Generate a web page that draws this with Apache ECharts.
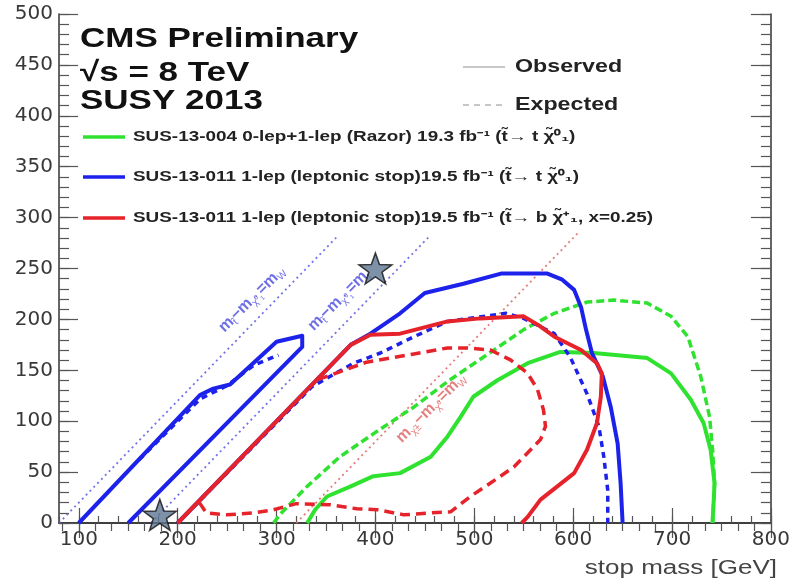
<!DOCTYPE html>
<html>
<head>
<meta charset="utf-8">
<script src="https://cdn.jsdelivr.net/npm/echarts@6.0.0/dist/echarts.min.js"></script>
<style>
html,body{margin:0;padding:0;background:#fff;}
#chart{width:793px;height:584px;}
</style>
</head>
<body>
<div id="chart"></div>
<script>
// ---- tick labels ----
const xTickLabels = [100, 200, 300, 400, 500, 600, 700, 800];
const yTickLabels = [0, 50, 100, 150, 200, 250, 300, 350, 400, 450, 500];

// ---- kinematic lines (stop mass, LSP mass) ----
const lineMW = [[80, 0], [362, 282]];          // m_stop - m_LSP = m_W
const lineMt = [[173, 0], [455, 282]];         // m_stop - m_LSP = m_t
const lineRedMW = [[320, 0], [605, 285]];      // m_chargino - m_LSP = m_W (x=0.25)

// ---- SUS-13-004 Razor (green) ----
const greenObs = [[331,0],[339,13],[351,26],[375,36],[398,46],[425,49],[456,65],[473,85],[486,104],[499,124],[523,140],[554,157],[587,168],[621,167],[675,162],[699,147],[719,121],[732,98],[739,72],[743,39],[741,0]];
const greenExp = [[297,0],[304,9],[331,36],[364,65],[400,89],[439,114],[473,139],[520,170],[550,190],[581,206],[614,217],[641,219],[675,216],[699,203],[716,183],[729,144],[738,104],[741,72],[743,39],[741,0]];

// ---- SUS-13-011 t -> t chi0 (blue) ----
const blueIslandObs = [[100,0],[223,126],[236,132],[253,136],[300,178],[326,184],[326,173],[150,0]];
const blueIslandExp = [[161,62],[200,100],[223,122],[250,135],[277,155],[302,165]];
const blueObs = [[200,0],[375,175],[395,186],[425,206],[450,226],[489,235],[527,245],[574,245],[589,239],[601,229],[608,212],[613,190],[619,167],[630,144],[638,114],[645,78],[648,39],[650,0]];
const blueExp = [[200,0],[336,134],[378,157],[405,167],[439,183],[473,198],[532,206],[550,201],[581,186],[597,163],[614,127],[626,95],[631,65],[635,32],[635,0]];

// ---- SUS-13-011 t -> b chi+ x=0.25 (red) ----
const redObs = [[200,0],[375,175],[395,185],[425,186],[473,198],[506,201],[550,203],[567,193],[581,183],[608,170],[624,157],[629,147],[628,124],[624,98],[614,72],[601,49],[584,36],[567,23],[554,6],[548,0]];
const redExp = [[222,20],[229,10],[250,8],[277,10],[297,13],[320,19],[354,18],[381,14],[402,13],[429,8],[456,10],[476,11],[496,26],[516,39],[540,55],[557,72],[567,82],[572,95],[570,111],[564,131],[554,147],[537,160],[516,170],[493,172],[473,172],[439,166],[391,158],[351,144],[342,141]];

// ---- benchmark stars ----
const stars = [[182, 8], [400, 250]];

// ---- line annotations ----
const blueLabels = [[275, 220, 'W'], [363, 219, 't']];
const redLabels = [[456, 113, 'W']];

const BLUE = '#1c22ea', RED = '#e6232b', GREEN = '#2fe22f';
const DOT_BLUE = 'rgba(90,90,230,0.85)', DOT_RED = 'rgba(225,110,110,0.9)';

const chart = echarts.init(document.getElementById('chart'), null, {renderer: 'canvas'});

const topMinor = [];
for (let k = -1; k <= 42; k++) { const v = 100 + k * 100 / 6; if (v >= 80 && v <= 800) topMinor.push(v); }

const tickCol = '#555';
const baseX = {type: 'value', min: 80, max: 800, splitLine: {show: false}, axisLabel: {show: false}, axisLine: {show: false}};
const baseY = {type: 'value', min: 0, max: 500, splitLine: {show: false}, axisLabel: {show: false}, axisLine: {show: false}};

const STAR = 'path://M0,-10 L2.35,-3.24 L9.51,-3.09 L3.8,1.24 L5.88,8.09 L0,4 L-5.88,8.09 L-3.8,1.24 L-9.51,-3.09 L-2.35,-3.24 Z';

function lineSeries(data, color, type, width, z) {
  return {type: 'line', data: data, xAxisIndex: 0, yAxisIndex: 0, showSymbol: false, symbol: 'none',
    silent: true, z: z, lineStyle: {color: color, width: width, type: type, cap: 'butt', join: 'round'}};
}

function diagLabel(sub1, sub2, eq) {
  return '{m|m}{s|' + sub1 + '}{m|−m}{s|' + sub2 + '}{m|=m}{s|' + eq + '}';
}
const richFor = (color) => ({
  m: {fontSize: 16, color: color, fontFamily: 'Liberation Sans', fontWeight: 'bold', lineHeight: 20},
  s: {fontSize: 10, color: color, fontFamily: 'Liberation Sans', verticalAlign: 'bottom', lineHeight: 20}
});

const option = {
  animation: false,
  backgroundColor: '#ffffff',
  grid: {left: 59, right: 22, top: 14, bottom: 61, containLabel: false},
  xAxis: [
    Object.assign({}, baseX, {position: 'bottom', interval: 20,
      axisLine: {show: true, lineStyle: {color: '#333', width: 1.5}},
      axisTick: {show: true, inside: true, length: 7, lineStyle: {color: tickCol, width: 1.2}},
      axisLabel: {show: true, interval: 0, margin: 7, color: '#383838', fontSize: 20, fontFamily: 'DejaVu Sans',
        formatter: (v) => (xTickLabels.indexOf(v) >= 0 ? String(v) : '')}}),
    Object.assign({}, baseX, {position: 'bottom',
      axisTick: {show: true, inside: true, length: 15, customValues: xTickLabels, lineStyle: {color: tickCol, width: 1.2}}}),
    Object.assign({}, baseX, {position: 'top',
      axisLine: {show: true, lineStyle: {color: '#333', width: 1.5}},
      axisTick: {show: true, inside: true, length: 8, customValues: topMinor, lineStyle: {color: tickCol, width: 1.2}}}),
    Object.assign({}, baseX, {position: 'top',
      axisTick: {show: true, inside: true, length: 15, customValues: xTickLabels, lineStyle: {color: tickCol, width: 1.2}}})
  ],
  yAxis: [
    Object.assign({}, baseY, {position: 'left', interval: 10,
      axisLine: {show: true, lineStyle: {color: '#333', width: 1.5}},
      axisTick: {show: true, inside: true, length: 10, lineStyle: {color: tickCol, width: 1.2}},
      axisLabel: {show: true, interval: 0, margin: 6, color: '#383838', fontSize: 20, fontFamily: 'DejaVu Sans',
        formatter: (v) => (yTickLabels.indexOf(v) >= 0 ? String(v) : '')}}),
    Object.assign({}, baseY, {position: 'left', interval: 50,
      axisTick: {show: true, inside: true, length: 19, lineStyle: {color: tickCol, width: 1.2}}}),
    Object.assign({}, baseY, {position: 'right', interval: 10,
      axisLine: {show: true, lineStyle: {color: '#333', width: 1.5}},
      axisTick: {show: true, inside: true, length: 10, lineStyle: {color: tickCol, width: 1.2}}}),
    Object.assign({}, baseY, {position: 'right', interval: 50,
      axisTick: {show: true, inside: true, length: 20, lineStyle: {color: tickCol, width: 1.2}}})
  ],
  series: [
    lineSeries(lineMW, DOT_BLUE, [2, 3.5], 1.8, 1),
    lineSeries(lineMt, DOT_BLUE, [2, 3.5], 1.8, 1),
    lineSeries(lineRedMW, DOT_RED, [2, 3.5], 1.8, 1),
    lineSeries(greenExp, GREEN, [8, 4], 3.5, 2),
    lineSeries(greenObs, GREEN, 'solid', 4, 3),
    lineSeries(blueIslandExp, BLUE, [6, 5], 3.5, 4),
    lineSeries(blueExp, BLUE, [6, 5], 3.5, 4),
    lineSeries(blueIslandObs, BLUE, 'solid', 4, 5),
    lineSeries(blueObs, BLUE, 'solid', 4, 5),
    lineSeries(redExp, RED, [10, 6], 3.5, 6),
    lineSeries(redObs, RED, 'solid', 4, 7),
    {type: 'scatter', data: blueLabels.map(d => ({value: [d[0], d[1]], eq: d[2]})), symbolSize: 0, silent: true, z: 8,
      label: {show: true, position: 'inside', rotate: 45,
        formatter: (p) => diagLabel('t̃', 'χ̃⁰₁', p.data.eq), rich: richFor('#4a4ae0')}},
    {type: 'scatter', data: redLabels.map(d => ({value: [d[0], d[1]], eq: d[2]})), symbolSize: 0, silent: true, z: 8,
      label: {show: true, position: 'inside', rotate: 45,
        formatter: (p) => diagLabel('χ̃±', 'χ̃⁰', p.data.eq), rich: richFor('#e06060')}},
    {type: 'scatter', data: stars, symbol: STAR, symbolSize: [33, 31], silent: true, z: 10,
      itemStyle: {color: '#5d7692', borderColor: '#111', borderWidth: 1.5}}
  ],
  graphic: [
    {type: 'text', x: 80, y: 39, scaleX: 1.25, style: {text: 'CMS Preliminary', font: 'bold 28px "Liberation Sans"', fill: '#111', align: 'left', verticalAlign: 'middle'}},
    {type: 'text', x: 80, y: 73, scaleX: 1.25, style: {text: '√s = 8 TeV', font: 'bold 28px "Liberation Sans"', fill: '#111', align: 'left', verticalAlign: 'middle'}},
    {type: 'text', x: 80, y: 101, scaleX: 1.25, style: {text: 'SUSY 2013', font: 'bold 28px "Liberation Sans"', fill: '#111', align: 'left', verticalAlign: 'middle'}},

    {type: 'line', shape: {x1: 463, y1: 67, x2: 505, y2: 67}, style: {stroke: '#b5b5b5', lineWidth: 1.5}},
    {type: 'text', x: 515, y: 67, scaleX: 1.29, style: {text: 'Observed', font: 'bold 18px "Liberation Sans"', fill: '#222', align: 'left', verticalAlign: 'middle'}},
    {type: 'line', shape: {x1: 463, y1: 105, x2: 505, y2: 105}, style: {stroke: '#b5b5b5', lineWidth: 1.5, lineDash: [6, 5]}},
    {type: 'text', x: 515, y: 105, scaleX: 1.29, style: {text: 'Expected', font: 'bold 18px "Liberation Sans"', fill: '#222', align: 'left', verticalAlign: 'middle'}},

    {type: 'line', shape: {x1: 83, y1: 137, x2: 125, y2: 137}, style: {stroke: GREEN, lineWidth: 3.5}},
    {type: 'text', x: 133, y: 137, scaleX: 1.35, style: {text: 'SUS-13-004 0-lep+1-lep (Razor) 19.3 fb⁻¹ (t̃→ t χ̃⁰₁)', font: 'bold 14px "Liberation Sans"', fill: '#222', align: 'left', verticalAlign: 'middle'}},
    {type: 'line', shape: {x1: 83, y1: 177, x2: 125, y2: 177}, style: {stroke: BLUE, lineWidth: 3.5}},
    {type: 'text', x: 133, y: 177, scaleX: 1.35, style: {text: 'SUS-13-011 1-lep (leptonic stop)19.5 fb⁻¹ (t̃→ t χ̃⁰₁)', font: 'bold 14px "Liberation Sans"', fill: '#222', align: 'left', verticalAlign: 'middle'}},
    {type: 'line', shape: {x1: 83, y1: 218, x2: 125, y2: 218}, style: {stroke: RED, lineWidth: 3.5}},
    {type: 'text', x: 133, y: 218, scaleX: 1.35, style: {text: 'SUS-13-011 1-lep (leptonic stop)19.5 fb⁻¹ (t̃→ b χ̃⁺₁, x=0.25)', font: 'bold 14px "Liberation Sans"', fill: '#222', align: 'left', verticalAlign: 'middle'}},

    {type: 'text', x: 777, y: 568, scaleX: 1.3, style: {text: 'stop mass [GeV]', font: '20px "Liberation Sans"', fill: '#444', align: 'right', verticalAlign: 'middle'}}
  ]
};
chart.setOption(option);
</script>
</body>
</html>
